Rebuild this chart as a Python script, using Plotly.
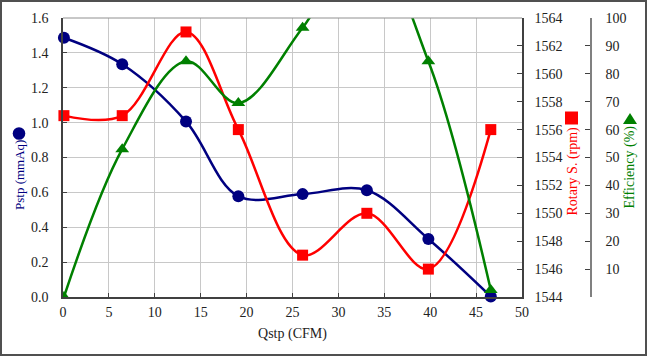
import plotly.graph_objects as go

qstp = [0.1, 6.45, 13.4, 19.1, 26.1, 33.1, 39.8, 46.6]
pstp = [1.487, 1.335, 1.007, 0.578, 0.590, 0.612, 0.333, 0.003]
rotary = [1557, 1557, 1563, 1556, 1547, 1550, 1546, 1556]
efficiency = [0.0, 53.0, 84.5, 69.5, 96.5, 128.0, 84.5, 2.5]

x_ticks = list(range(0, 51, 5))
p_ticks = [i * 0.2 for i in range(9)]
r_ticks = list(range(1544, 1565, 2))
e_ticks = list(range(10, 101, 10))

NAVY = "#000080"
RED = "#FF0000"
GREEN = "#008000"
FONT = "Liberation Serif, Times New Roman, serif"
AX = "#404040"
GRID = "#C8C8C8"

fig = go.Figure()
fig.add_trace(go.Scatter(x=qstp, y=pstp, mode="lines+markers", line=dict(color=NAVY, width=2.5, shape="spline", smoothing=1.0),
                         marker=dict(symbol="circle", size=12, color=NAVY), yaxis="y", cliponaxis=False))
fig.add_trace(go.Scatter(x=qstp, y=rotary, mode="lines+markers", line=dict(color=RED, width=2.5, shape="spline", smoothing=1.0),
                         marker=dict(symbol="square", size=11, color=RED), yaxis="y2", cliponaxis=False))
fig.add_trace(go.Scatter(x=qstp, y=efficiency, mode="lines+markers", line=dict(color=GREEN, width=2.5, shape="spline", smoothing=1.0),
                         marker=dict(symbol="triangle-up", size=12, color=GREEN), yaxis="y3", cliponaxis=True))

W, H = 647, 356
PLOT_R = 522
EFF_X = 591
L, R, T, B = 63, W - EFF_X, 18, 59
pw, ph = W - L - R, H - T - B

def px(x):
    return (x - L) / pw

def py(y):
    return (H - B - y) / ph

tickfont = dict(family=FONT, size=14, color="#222222")

fig.update_layout(
    width=W, height=H,
    margin=dict(l=L, r=R, t=T, b=B, autoexpand=False),
    paper_bgcolor="white", plot_bgcolor="white",
    showlegend=False,
    font=dict(family=FONT, size=14),
    xaxis=dict(domain=[0, px(PLOT_R)], range=[0, 50], tickvals=x_ticks, ticks="inside", ticklen=4, tickcolor=AX,
               showgrid=True, gridcolor=GRID, gridwidth=1, showline=True, linecolor=AX, linewidth=1.5,
               zeroline=False, tickfont=tickfont, ticklabelstandoff=1,
               title=dict(text="Qstp (CFM)", font=dict(family=FONT, size=14, color="#222222"), standoff=10)),
    yaxis=dict(range=[0, 1.6], tickvals=p_ticks, tickformat=".1f", ticks="inside", ticklen=4, tickcolor=AX,
               showgrid=True, gridcolor=GRID, gridwidth=1, showline=True, linecolor=AX, linewidth=1.5,
               zeroline=False, tickfont=tickfont, ticklabelstandoff=10),
    yaxis2=dict(range=[1544, 1564], tickvals=r_ticks, overlaying="y", side="right", anchor="x",
                ticks="inside", ticklen=5, tickcolor=AX, showgrid=False, showline=True, linecolor=AX, linewidth=1.5,
                zeroline=False, tickfont=tickfont, ticklabelstandoff=8),
    yaxis3=dict(range=[0, 100], tickvals=e_ticks, overlaying="y", side="right", anchor="free", position=1,
                ticks="inside", ticklen=5, tickcolor=AX, showgrid=False, showline=True, linecolor="#808080", linewidth=1.5,
                zeroline=False, tickfont=tickfont, ticklabelstandoff=11),
)

# top border of plot area
fig.add_shape(type="line", xref="paper", yref="paper", x0=0, x1=px(PLOT_R), y0=1, y1=1, line=dict(color="#909090", width=1))
# outer frame
fig.add_shape(type="rect", xref="paper", yref="paper", x0=px(1), x1=px(W - 1), y0=py(H - 1), y1=py(1),
              line=dict(color="#505050", width=2))

annots = [
    ("Pstp (mmAq)", 19, 175, NAVY, 13),
    ("Rotary S. (rpm)", 572, 171.5, RED, 14),
    ("Efficiency (%)", 629, 167.5, GREEN, 14),
]
for text, x, y, c, s in annots:
    fig.add_annotation(text=text, xref="paper", yref="paper", x=px(x), y=py(y), showarrow=False,
                       textangle=-90, font=dict(family=FONT, size=s, color=c), xanchor="center", yanchor="middle")

# legend-like symbols next to axis titles
fig.add_shape(type="circle", xref="paper", yref="paper", xsizemode="pixel", ysizemode="pixel",
              xanchor=px(19), yanchor=py(133.5), x0=-6.3, x1=6.3, y0=-6.3, y1=6.3,
              fillcolor=NAVY, line=dict(color=NAVY, width=0))
fig.add_shape(type="rect", xref="paper", yref="paper", xsizemode="pixel", ysizemode="pixel",
              xanchor=px(571.5), yanchor=py(118), x0=-6.5, x1=6.5, y0=-6.5, y1=6.5,
              fillcolor=RED, line=dict(color=RED, width=0))
fig.add_shape(type="path", xref="paper", yref="paper", xsizemode="pixel", ysizemode="pixel",
              xanchor=px(630), yanchor=py(118.5), path="M -7 -5.5 L 7 -5.5 L 0 5.5 Z",
              fillcolor=GREEN, line=dict(color=GREEN, width=0))

fig.write_html("out.html", config={"displayModeBar": False},
               post_script="document.body.style.margin='0';document.body.style.overflow='hidden';")
